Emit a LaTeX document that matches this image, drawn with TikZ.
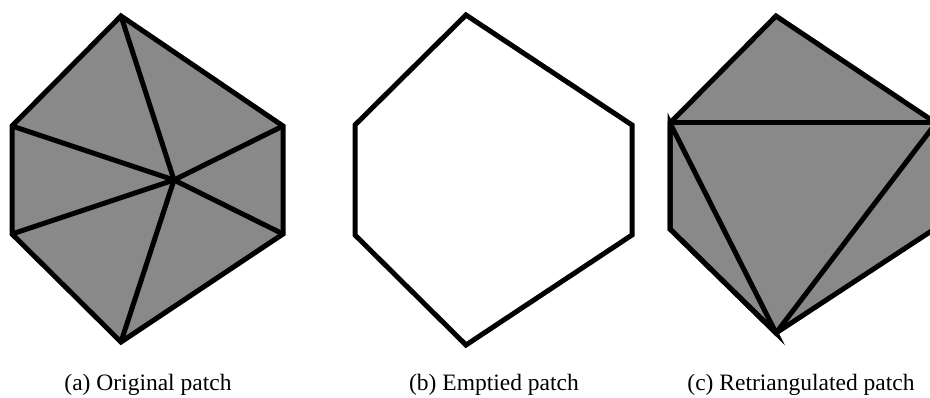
\documentclass[tikz,border=0pt]{standalone}
\usepackage{fontspec}
\setmainfont{Liberation Serif}
\definecolor{patchgray}{RGB}{137,137,137}
\tikzset{
  edge/.style={line width=5pt, line join=miter, miter limit=10},
  patch/.style={edge, fill=patchgray},
  caption/.style={font=\fontsize{23.5}{28}\selectfont, anchor=base, inner sep=0pt}
}
\begin{document}
\begin{tikzpicture}[x=1pt,y=-1pt]
\useasboundingbox (0,0) rectangle (930,398);
\clip (0,0) rectangle (930,398);
% (a) original patch
\coordinate (aT) at (121,16);
\coordinate (aUR) at (283,126);
\coordinate (aLR) at (283,234);
\coordinate (aB) at (121,342);
\coordinate (aLL) at (12,234);
\coordinate (aUL) at (12,126);
\coordinate (aC) at (174,180);
\draw[patch] (aT) -- (aUR) -- (aLR) -- (aB) -- (aLL) -- (aUL) -- cycle;
\foreach \v in {aT,aUR,aLR,aB,aLL,aUL} \draw[edge] (aC) -- (\v);
% (b) emptied patch
\coordinate (bT) at (466,15);
\coordinate (bUR) at (632,125);
\coordinate (bLR) at (632,235);
\coordinate (bB) at (466,345);
\coordinate (bLL) at (355,235);
\coordinate (bUL) at (355,125);
\draw[edge] (bT) -- (bUR) -- (bLR) -- (bB) -- (bLL) -- (bUL) -- cycle;
% (c) retriangulated patch
\coordinate (cT) at (776,16);
\coordinate (cUR) at (936,123);
\coordinate (cLR) at (936,228);
\coordinate (cB) at (776,333);
\coordinate (cLL) at (670,229);
\coordinate (cUL) at (670,123);
\draw[patch] (cT) -- (cUR) -- (cLR) -- (cB) -- (cLL) -- (cUL) -- cycle;
\draw[edge] (cUL) -- (cUR);
\draw[edge] (cUR) -- (cB);
\draw[edge] (cUL) -- (cB) -- (cLL) -- cycle;
% captions
\node[caption] (capa) at (148,391) {(a) Original patch};
\node[caption] (capb) at (494,391) {(b) Emptied patch};
\node[caption] (capc) at (801,391) {(c) Retriangulated patch};
\end{tikzpicture}
\end{document}
